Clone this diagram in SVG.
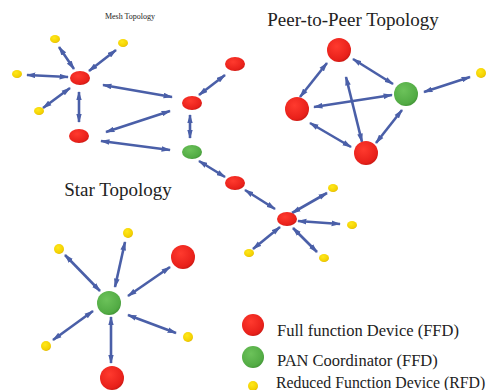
<svg xmlns="http://www.w3.org/2000/svg" width="490" height="390" viewBox="0 0 490 390">
<style>
.t{font-family:"Liberation Serif","Times New Roman",serif;fill:#222}
.c line{stroke:#4a5fa8;stroke-width:2.6;marker-start:url(#a);marker-end:url(#a)}
.r{fill:url(#gr)}.g{fill:url(#gg)}.y{fill:url(#gy)}
</style>
<defs>
<radialGradient id="gr" cx="0.4" cy="0.35" r="0.7"><stop offset="0" stop-color="#ff3a2e"/><stop offset="0.8" stop-color="#e8201a"/><stop offset="1" stop-color="#c41812"/></radialGradient>
<radialGradient id="gg" cx="0.4" cy="0.35" r="0.7"><stop offset="0" stop-color="#6cc25a"/><stop offset="0.8" stop-color="#52ab44"/><stop offset="1" stop-color="#3f9033"/></radialGradient>
<radialGradient id="gy" cx="0.4" cy="0.35" r="0.7"><stop offset="0" stop-color="#ffe81a"/><stop offset="0.8" stop-color="#f2cf00"/><stop offset="1" stop-color="#d4a800"/></radialGradient>
<marker id="a" viewBox="0 0 10 6" refX="9" refY="3" markerWidth="3.6" markerHeight="2.4" orient="auto-start-reverse" markerUnits="strokeWidth"><path d="M0,0 L10,3 L0,6 Z" fill="#4a5fa8"/></marker>
</defs>
<rect width="490" height="390" fill="#fff"/>
<text class="t" x="130" y="19" font-size="8" text-anchor="middle">Mesh Topology</text>
<text class="t" x="353" y="26" font-size="19" text-anchor="middle">Peer-to-Peer Topology</text>
<text class="t" x="118" y="196" font-size="19" text-anchor="middle">Star Topology</text>
<g class="c" id="connectors">
<line x1="59" y1="47" x2="74" y2="69"/>
<line x1="116" y1="50" x2="89" y2="71"/>
<line x1="27" y1="75" x2="68" y2="77"/>
<line x1="43" y1="108" x2="70" y2="88"/>
<line x1="79" y1="92" x2="79" y2="122"/>
<line x1="103" y1="85" x2="172" y2="97"/>
<line x1="170" y1="111" x2="106" y2="132"/>
<line x1="101" y1="141" x2="170" y2="150"/>
<line x1="225" y1="75" x2="199" y2="95"/>
<line x1="190" y1="115" x2="190" y2="138"/>
<line x1="199" y1="161" x2="225" y2="177"/>
<line x1="245" y1="190" x2="275" y2="209"/>
<line x1="292" y1="213" x2="327" y2="193"/>
<line x1="298" y1="221" x2="340" y2="224"/>
<line x1="280" y1="227" x2="253" y2="249"/>
<line x1="293" y1="228" x2="317" y2="252"/>
<line x1="327" y1="63" x2="300" y2="97"/>
<line x1="353" y1="59" x2="393" y2="84"/>
<line x1="346" y1="77" x2="362" y2="142"/>
<line x1="314" y1="107" x2="392" y2="95"/>
<line x1="310" y1="123" x2="351" y2="147"/>
<line x1="402" y1="110" x2="376" y2="143"/>
<line x1="424" y1="92" x2="470" y2="77"/>
<line x1="65" y1="255" x2="100" y2="291"/>
<line x1="125" y1="242" x2="115" y2="287"/>
<line x1="170" y1="267" x2="128" y2="296"/>
<line x1="128" y1="315" x2="176" y2="333"/>
<line x1="93" y1="311" x2="53" y2="340"/>
<line x1="111" y1="317" x2="111" y2="363"/>
</g>
<g id="mesh-y1"><ellipse class="y" cx="55" cy="39" rx="5" ry="4"/></g>
<g id="mesh-y2"><ellipse class="y" cx="123" cy="43" rx="5" ry="4"/></g>
<g id="mesh-y3"><ellipse class="y" cx="17" cy="74" rx="5" ry="4"/></g>
<g id="mesh-y4"><ellipse class="y" cx="39" cy="111" rx="5" ry="4"/></g>
<g id="mesh-a"><ellipse class="r" cx="80" cy="78" rx="10" ry="7"/></g>
<g id="mesh-b"><ellipse class="r" cx="79" cy="136" rx="10" ry="7"/></g>
<g id="mesh-c"><ellipse class="r" cx="192" cy="103" rx="10" ry="7"/></g>
<g id="mesh-d"><ellipse class="r" cx="235" cy="64" rx="10" ry="7"/></g>
<g id="mesh-e"><ellipse class="g" cx="192" cy="152" rx="10" ry="7"/></g>
<g id="mesh-f"><ellipse class="r" cx="235" cy="183" rx="10" ry="7"/></g>
<g id="mesh-hub"><ellipse class="r" cx="287" cy="219" rx="10" ry="7"/></g>
<g id="mesh-y5"><ellipse class="y" cx="333" cy="188" rx="5" ry="4"/></g>
<g id="mesh-y6"><ellipse class="y" cx="352" cy="225" rx="5" ry="4"/></g>
<g id="mesh-y7"><ellipse class="y" cx="249" cy="253" rx="5" ry="4"/></g>
<g id="mesh-y8"><ellipse class="y" cx="324" cy="258" rx="5" ry="4"/></g>
<g id="p2p-top"><circle class="r" cx="339" cy="50" r="12"/></g>
<g id="p2p-left"><circle class="r" cx="297" cy="109" r="12"/></g>
<g id="p2p-green"><circle class="g" cx="406" cy="94" r="12"/></g>
<g id="p2p-bottom"><circle class="r" cx="366" cy="153" r="12"/></g>
<g id="p2p-y"><circle class="y" cx="481" cy="73" r="5"/></g>
<g id="star-center"><circle class="g" cx="109" cy="303" r="12"/></g>
<g id="star-y1"><circle class="y" cx="59" cy="249" r="5"/></g>
<g id="star-y2"><circle class="y" cx="128" cy="233" r="5"/></g>
<g id="star-r1"><circle class="r" cx="183" cy="257" r="12"/></g>
<g id="star-y3"><circle class="y" cx="188" cy="337" r="5"/></g>
<g id="star-y4"><circle class="y" cx="46" cy="346" r="5"/></g>
<g id="star-r2"><circle class="r" cx="112" cy="378" r="12"/></g>
<g id="legend">
<circle class="r" cx="253" cy="325" r="11"/>
<text class="t" x="277" y="336" font-size="16.5">Full function Device (FFD)</text>
<circle class="g" cx="253" cy="357" r="11"/>
<text class="t" x="277" y="366" font-size="16.5">PAN Coordinator (FFD)</text>
<circle class="y" cx="253" cy="386" r="5"/>
<text class="t" x="276" y="388" font-size="15.8">Reduced Function Device (RFD)</text>
</g>
</svg>
